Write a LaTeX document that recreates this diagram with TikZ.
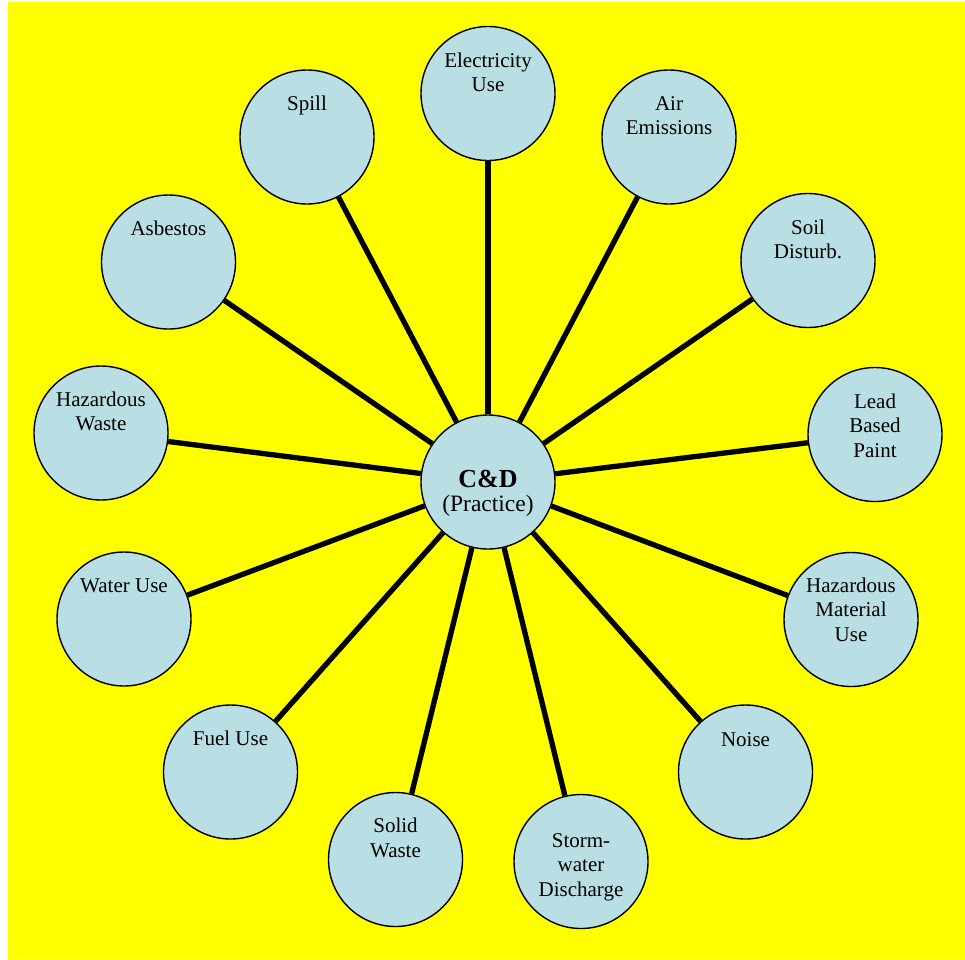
\documentclass[tikz,border=0pt]{standalone}
\usepackage{fontspec}
\setmainfont{Liberation Serif}
\definecolor{bub}{RGB}{185,222,227}
\definecolor{bgyellow}{RGB}{255,255,0}
\newcommand\Tst{\rule{0pt}{15pt}}
\newcommand\Tbig{\rule{0pt}{20pt}}
\begin{document}
\begin{tikzpicture}[x=1pt,y=-1pt,
  bubble/.style={circle,draw=black,line width=1.4pt,fill=bub,minimum size=134pt,inner sep=0pt},
  lbl/.style={anchor=north,inner sep=0pt,align=center,font=\fontsize{21}{24.5}\selectfont,text=black},
  spoke/.style={line width=5.3pt,draw=black}]
\useasboundingbox (0,0) rectangle (965,959);
\fill[bgyellow] (8,2) rectangle (965,959);
% bubbles
\node[bubble] (c)  at (488,482) {};
\node[bubble] (e)  at (488,93.5) {};
\node[bubble] (a)  at (669,137) {};
\node[bubble] (s)  at (808,260.5) {};
\node[bubble] (l)  at (875,434.5) {};
\node[bubble] (hm) at (851,619.5) {};
\node[bubble] (n)  at (745.5,772) {};
\node[bubble] (sw) at (581,861.5) {};
\node[bubble] (so) at (395.5,859.5) {};
\node[bubble] (f)  at (230.5,772) {};
\node[bubble] (w)  at (124,619) {};
\node[bubble] (hw) at (101,433) {};
\node[bubble] (as) at (168.5,262) {};
\node[bubble] (sp) at (307,137) {};
% labels (north anchor = first baseline - 15)
\node[lbl] (ct) at (488,467) {\fontsize{26}{27}\selectfont\bfseries\Tbig C\&D\\[0pt]\fontsize{23.5}{27}\selectfont\mdseries (Practice)};
\node[lbl] (et)  at (488,52)    {\Tst Electricity\\Use};
\node[lbl] (at)  at (669,95)    {\Tst Air\\Emissions};
\node[lbl] (st)  at (808,219)   {\Tst Soil\\Disturb.};
\node[lbl] (lt)  at (875,393)   {\Tst Lead\\Based\\Paint};
\node[lbl] (hmt) at (851,577)   {\Tst Hazardous\\Material\\Use};
\node[lbl] (nt)  at (745.5,731) {\Tst Noise};
\node[lbl] (swt) at (581,832)   {\Tst Storm-\\water\\Discharge};
\node[lbl] (sot) at (395.5,817.5) {\Tst Solid\\Waste};
\node[lbl] (ft)  at (230.5,730) {\Tst Fuel Use};
\node[lbl] (wt)  at (124,577)   {\Tst Water Use};
\node[lbl] (hwt) at (101,391)   {\Tst Hazardous\\Waste};
\node[lbl] (ast) at (168.5,220) {\Tst Asbestos};
\node[lbl] (spt) at (307,95)    {\Tst Spill};
% spokes
\foreach \t in {e,a,s,l,hm,n,sw,so,f,w,hw,as,sp}
  \draw[spoke] (c) -- (\t);
\end{tikzpicture}
\end{document}
